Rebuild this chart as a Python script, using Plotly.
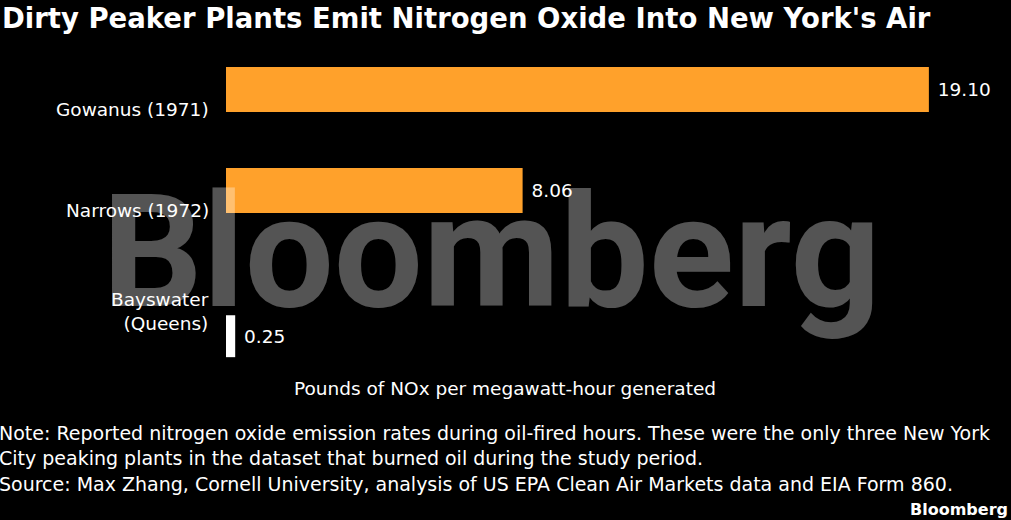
import plotly.graph_objects as go

# data
plants = ["Gowanus (1971)", "Narrows (1972)", "Bayswater<br>(Queens)"]
nox_rate = [19.10, 8.06, 0.25]
bar_colors = ["#ffa12b", "#ffa12b", "#ffffff"]

title_text = "Dirty Peaker Plants Emit Nitrogen Oxide Into New York's Air"
axis_text = "Pounds of NOx per megawatt-hour generated"
note_text = ("Note: Reported nitrogen oxide emission rates during oil-fired hours. These were the only three New York<br>"
             "City peaking plants in the dataset that burned oil during the study period.")
source_text = "Source: Max Zhang, Cornell University, analysis of US EPA Clean Air Markets data and EIA Form 860."

W, H = 1011, 520
L, R, T, B = 226, 40, 50, 150
PW, PH = W - L - R, H - T - B


def px(x):
    # page pixel -> paper x
    return (x - L) / PW


def py(y):
    # page pixel -> paper y
    return (H - B - y) / PH


FONT = "DejaVu Sans"

fig = go.Figure(go.Bar(
    y=plants,
    x=nox_rate,
    orientation="h",
    marker=dict(color=bar_colors, line=dict(width=0)),
    width=[0.445, 0.445, 0.415],
    offset=[-0.2225, -0.2225, 0.235],
    texttemplate="\u00a0%{x:.2f}",
    textposition="outside",
    textfont=dict(family=FONT, size=18.5, color="white"),
    cliponaxis=False,
    hoverinfo="skip",
))

ann = []
# category labels, sitting a little below the slot centre
for p in plants:
    ann.append(dict(x=0, y=p, xref="x", yref="y", text=p, showarrow=False,
                    xanchor="right", yanchor="middle", xshift=-15, yshift=-20,
                    align="right", font=dict(family=FONT, size=18.5, color="white")))

ann += [
    dict(x=px(0), y=py(18), text="<b>" + title_text + "</b>", xanchor="left", yanchor="middle",
         font=dict(family=FONT, size=27.5, color="white")),
    dict(x=px(505), y=py(388), text=axis_text, xanchor="center", yanchor="middle",
         font=dict(family=FONT, size=18.5, color="white")),
    dict(x=px(-3), y=py(445), text=note_text, xanchor="left", yanchor="middle", align="left",
         font=dict(family=FONT, size=19, color="white")),
    dict(x=px(-3), y=py(484), text=source_text, xanchor="left", yanchor="middle", align="left",
         font=dict(family=FONT, size=19, color="white")),
    dict(x=px(1010), y=py(509), text="<b>Bloomberg</b>", xanchor="right", yanchor="middle",
         font=dict(family=FONT, size=16, color="white")),
    # watermark on top of everything
    dict(x=px(491), y=py(252), text="<b>Bloomberg</b>", xanchor="center", yanchor="middle",
         font=dict(family="Roboto", size=158, color="rgba(255,255,255,0.33)")),
]
for a in ann[len(plants):]:
    a.update(xref="paper", yref="paper", showarrow=False)

fig.update_layout(
    width=W, height=H,
    margin=dict(l=L, r=R, t=T, b=B),
    paper_bgcolor="black", plot_bgcolor="black",
    showlegend=False,
    xaxis=dict(range=[0, PW / 36.8], visible=False, fixedrange=True),
    yaxis=dict(type="category", categoryorder="array", categoryarray=plants,
               range=[2.777, -0.391], visible=False, fixedrange=True),
    annotations=ann,
)

fig.write_html("out.html", config={"displayModeBar": False},
               post_script="document.body.style.margin='0';document.body.style.background='black';")
